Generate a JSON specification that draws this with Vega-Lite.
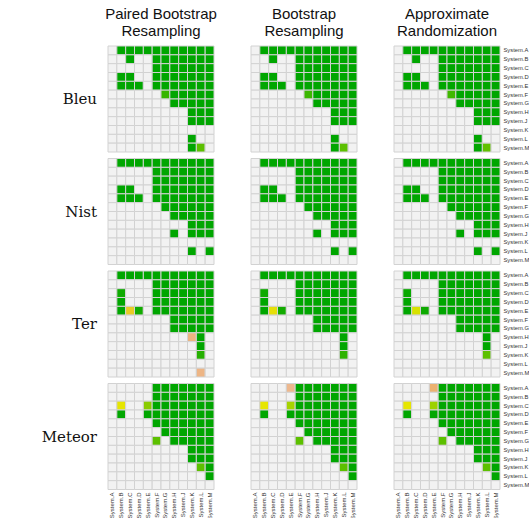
{
  "$schema": "https://vega.github.io/schema/vega-lite/v6.json",
  "padding": {"left": 41, "top": 7, "right": 0, "bottom": 0},
  "background": "white",
  "data": {"values": [
    {"m":"Bleu","t":"Paired Bootstrap Resampling","r":"A","A":1,"B":0,"C":0,"D":0,"E":0,"F":0,"G":0,"H":0,"J":0,"K":0,"L":0,"M":0},
    {"m":"Bleu","t":"Paired Bootstrap Resampling","r":"B","A":1,"B":1,"C":0,"D":1,"E":1,"F":0,"G":0,"H":0,"J":0,"K":0,"L":0,"M":0},
    {"m":"Bleu","t":"Paired Bootstrap Resampling","r":"C","A":1,"B":1,"C":1,"D":1,"E":1,"F":0,"G":0,"H":0,"J":0,"K":0,"L":0,"M":0},
    {"m":"Bleu","t":"Paired Bootstrap Resampling","r":"D","A":1,"B":0,"C":0,"D":1,"E":1,"F":0,"G":0,"H":0,"J":0,"K":0,"L":0,"M":0},
    {"m":"Bleu","t":"Paired Bootstrap Resampling","r":"E","A":1,"B":0,"C":0,"D":0,"E":1,"F":0,"G":0,"H":0,"J":0,"K":0,"L":0,"M":0},
    {"m":"Bleu","t":"Paired Bootstrap Resampling","r":"F","A":1,"B":1,"C":1,"D":1,"E":1,"F":1,"G":0.12,"H":0,"J":0,"K":0,"L":0,"M":0},
    {"m":"Bleu","t":"Paired Bootstrap Resampling","r":"G","A":1,"B":1,"C":1,"D":1,"E":1,"F":1,"G":1,"H":0,"J":0,"K":0,"L":0,"M":0},
    {"m":"Bleu","t":"Paired Bootstrap Resampling","r":"H","A":1,"B":1,"C":1,"D":1,"E":1,"F":1,"G":1,"H":1,"J":1,"K":0,"L":0,"M":0},
    {"m":"Bleu","t":"Paired Bootstrap Resampling","r":"J","A":1,"B":1,"C":1,"D":1,"E":1,"F":1,"G":1,"H":1,"J":1,"K":0,"L":0,"M":0},
    {"m":"Bleu","t":"Paired Bootstrap Resampling","r":"K","A":1,"B":1,"C":1,"D":1,"E":1,"F":1,"G":1,"H":1,"J":1,"K":1,"L":1,"M":1},
    {"m":"Bleu","t":"Paired Bootstrap Resampling","r":"L","A":1,"B":1,"C":1,"D":1,"E":1,"F":1,"G":1,"H":1,"J":1,"K":0,"L":1,"M":1},
    {"m":"Bleu","t":"Paired Bootstrap Resampling","r":"M","A":1,"B":1,"C":1,"D":1,"E":1,"F":1,"G":1,"H":1,"J":1,"K":0,"L":0.2,"M":1},

    {"m":"Bleu","t":"Bootstrap Resampling","r":"A","A":1,"B":0,"C":0,"D":0,"E":0,"F":0,"G":0,"H":0,"J":0,"K":0,"L":0,"M":0},
    {"m":"Bleu","t":"Bootstrap Resampling","r":"B","A":1,"B":1,"C":0,"D":1,"E":1,"F":0,"G":0,"H":0,"J":0,"K":0,"L":0,"M":0},
    {"m":"Bleu","t":"Bootstrap Resampling","r":"C","A":1,"B":1,"C":1,"D":1,"E":1,"F":0,"G":0,"H":0,"J":0,"K":0,"L":0,"M":0},
    {"m":"Bleu","t":"Bootstrap Resampling","r":"D","A":1,"B":0,"C":0,"D":1,"E":1,"F":0,"G":0,"H":0,"J":0,"K":0,"L":0,"M":0},
    {"m":"Bleu","t":"Bootstrap Resampling","r":"E","A":1,"B":0,"C":0,"D":0,"E":1,"F":0,"G":0,"H":0,"J":0,"K":0,"L":0,"M":0},
    {"m":"Bleu","t":"Bootstrap Resampling","r":"F","A":1,"B":1,"C":1,"D":1,"E":1,"F":1,"G":0.13,"H":0,"J":0,"K":0,"L":0,"M":0},
    {"m":"Bleu","t":"Bootstrap Resampling","r":"G","A":1,"B":1,"C":1,"D":1,"E":1,"F":1,"G":1,"H":0,"J":0,"K":0,"L":0,"M":0},
    {"m":"Bleu","t":"Bootstrap Resampling","r":"H","A":1,"B":1,"C":1,"D":1,"E":1,"F":1,"G":1,"H":1,"J":1,"K":0,"L":0,"M":0},
    {"m":"Bleu","t":"Bootstrap Resampling","r":"J","A":1,"B":1,"C":1,"D":1,"E":1,"F":1,"G":1,"H":1,"J":1,"K":0,"L":0,"M":0},
    {"m":"Bleu","t":"Bootstrap Resampling","r":"K","A":1,"B":1,"C":1,"D":1,"E":1,"F":1,"G":1,"H":1,"J":1,"K":1,"L":1,"M":1},
    {"m":"Bleu","t":"Bootstrap Resampling","r":"L","A":1,"B":1,"C":1,"D":1,"E":1,"F":1,"G":1,"H":1,"J":1,"K":0,"L":1,"M":1},
    {"m":"Bleu","t":"Bootstrap Resampling","r":"M","A":1,"B":1,"C":1,"D":1,"E":1,"F":1,"G":1,"H":1,"J":1,"K":0,"L":0.2,"M":1},

    {"m":"Bleu","t":"Approximate Randomization","r":"A","A":1,"B":0,"C":0,"D":0,"E":0,"F":0,"G":0,"H":0,"J":0,"K":0,"L":0,"M":0},
    {"m":"Bleu","t":"Approximate Randomization","r":"B","A":1,"B":1,"C":0,"D":1,"E":1,"F":0,"G":0,"H":0,"J":0,"K":0,"L":0,"M":0},
    {"m":"Bleu","t":"Approximate Randomization","r":"C","A":1,"B":1,"C":1,"D":1,"E":1,"F":0,"G":0,"H":0,"J":0,"K":0,"L":0,"M":0},
    {"m":"Bleu","t":"Approximate Randomization","r":"D","A":1,"B":0,"C":0,"D":1,"E":1,"F":0,"G":0,"H":0,"J":0,"K":0,"L":0,"M":0},
    {"m":"Bleu","t":"Approximate Randomization","r":"E","A":1,"B":0,"C":0,"D":0,"E":1,"F":0,"G":0,"H":0,"J":0,"K":0,"L":0,"M":0},
    {"m":"Bleu","t":"Approximate Randomization","r":"F","A":1,"B":1,"C":1,"D":1,"E":1,"F":1,"G":0.14,"H":0,"J":0,"K":0,"L":0,"M":0},
    {"m":"Bleu","t":"Approximate Randomization","r":"G","A":1,"B":1,"C":1,"D":1,"E":1,"F":1,"G":1,"H":0,"J":0,"K":0,"L":0,"M":0},
    {"m":"Bleu","t":"Approximate Randomization","r":"H","A":1,"B":1,"C":1,"D":1,"E":1,"F":1,"G":1,"H":1,"J":1,"K":0,"L":0,"M":0},
    {"m":"Bleu","t":"Approximate Randomization","r":"J","A":1,"B":1,"C":1,"D":1,"E":1,"F":1,"G":1,"H":1,"J":1,"K":0,"L":0,"M":0},
    {"m":"Bleu","t":"Approximate Randomization","r":"K","A":1,"B":1,"C":1,"D":1,"E":1,"F":1,"G":1,"H":1,"J":1,"K":1,"L":1,"M":1},
    {"m":"Bleu","t":"Approximate Randomization","r":"L","A":1,"B":1,"C":1,"D":1,"E":1,"F":1,"G":1,"H":1,"J":1,"K":0,"L":1,"M":1},
    {"m":"Bleu","t":"Approximate Randomization","r":"M","A":1,"B":1,"C":1,"D":1,"E":1,"F":1,"G":1,"H":1,"J":1,"K":0,"L":0.21,"M":1},

    {"m":"Nist","t":"Paired Bootstrap Resampling","r":"A","A":1,"B":0,"C":0,"D":0,"E":0,"F":0,"G":0,"H":0,"J":0,"K":0,"L":0,"M":0},
    {"m":"Nist","t":"Paired Bootstrap Resampling","r":"B","A":1,"B":1,"C":1,"D":1,"E":1,"F":0,"G":0,"H":0,"J":0,"K":0,"L":0,"M":0},
    {"m":"Nist","t":"Paired Bootstrap Resampling","r":"C","A":1,"B":1,"C":1,"D":1,"E":1,"F":0,"G":0,"H":0,"J":0,"K":0,"L":0,"M":0},
    {"m":"Nist","t":"Paired Bootstrap Resampling","r":"D","A":1,"B":0,"C":0,"D":1,"E":1,"F":0,"G":0,"H":0,"J":0,"K":0,"L":0,"M":0},
    {"m":"Nist","t":"Paired Bootstrap Resampling","r":"E","A":1,"B":0,"C":0,"D":0,"E":1,"F":0,"G":0,"H":0,"J":0,"K":0,"L":0,"M":0},
    {"m":"Nist","t":"Paired Bootstrap Resampling","r":"F","A":1,"B":1,"C":1,"D":1,"E":1,"F":1,"G":0,"H":0,"J":0,"K":0,"L":0,"M":0},
    {"m":"Nist","t":"Paired Bootstrap Resampling","r":"G","A":1,"B":1,"C":1,"D":1,"E":1,"F":1,"G":1,"H":0,"J":0,"K":0,"L":0,"M":0},
    {"m":"Nist","t":"Paired Bootstrap Resampling","r":"H","A":1,"B":1,"C":1,"D":1,"E":1,"F":1,"G":1,"H":1,"J":1,"K":0,"L":0,"M":0},
    {"m":"Nist","t":"Paired Bootstrap Resampling","r":"J","A":1,"B":1,"C":1,"D":1,"E":1,"F":1,"G":1,"H":0,"J":1,"K":0,"L":0,"M":0},
    {"m":"Nist","t":"Paired Bootstrap Resampling","r":"K","A":1,"B":1,"C":1,"D":1,"E":1,"F":1,"G":1,"H":1,"J":1,"K":1,"L":1,"M":1},
    {"m":"Nist","t":"Paired Bootstrap Resampling","r":"L","A":1,"B":1,"C":1,"D":1,"E":1,"F":1,"G":1,"H":1,"J":1,"K":0,"L":1,"M":0},
    {"m":"Nist","t":"Paired Bootstrap Resampling","r":"M","A":1,"B":1,"C":1,"D":1,"E":1,"F":1,"G":1,"H":1,"J":1,"K":1,"L":1,"M":1},

    {"m":"Nist","t":"Bootstrap Resampling","r":"A","A":1,"B":0,"C":0,"D":0,"E":0,"F":0,"G":0,"H":0,"J":0,"K":0,"L":0,"M":0},
    {"m":"Nist","t":"Bootstrap Resampling","r":"B","A":1,"B":1,"C":1,"D":1,"E":1,"F":0,"G":0,"H":0,"J":0,"K":0,"L":0,"M":0},
    {"m":"Nist","t":"Bootstrap Resampling","r":"C","A":1,"B":1,"C":1,"D":1,"E":1,"F":0,"G":0,"H":0,"J":0,"K":0,"L":0,"M":0},
    {"m":"Nist","t":"Bootstrap Resampling","r":"D","A":1,"B":0,"C":0,"D":1,"E":1,"F":0,"G":0,"H":0,"J":0,"K":0,"L":0,"M":0},
    {"m":"Nist","t":"Bootstrap Resampling","r":"E","A":1,"B":0,"C":0,"D":0,"E":1,"F":0,"G":0,"H":0,"J":0,"K":0,"L":0,"M":0},
    {"m":"Nist","t":"Bootstrap Resampling","r":"F","A":1,"B":1,"C":1,"D":1,"E":1,"F":1,"G":0,"H":0,"J":0,"K":0,"L":0,"M":0},
    {"m":"Nist","t":"Bootstrap Resampling","r":"G","A":1,"B":1,"C":1,"D":1,"E":1,"F":1,"G":1,"H":0,"J":0,"K":0,"L":0,"M":0},
    {"m":"Nist","t":"Bootstrap Resampling","r":"H","A":1,"B":1,"C":1,"D":1,"E":1,"F":1,"G":1,"H":1,"J":1,"K":0,"L":0,"M":0},
    {"m":"Nist","t":"Bootstrap Resampling","r":"J","A":1,"B":1,"C":1,"D":1,"E":1,"F":1,"G":1,"H":0,"J":1,"K":0,"L":0,"M":0},
    {"m":"Nist","t":"Bootstrap Resampling","r":"K","A":1,"B":1,"C":1,"D":1,"E":1,"F":1,"G":1,"H":1,"J":1,"K":1,"L":1,"M":1},
    {"m":"Nist","t":"Bootstrap Resampling","r":"L","A":1,"B":1,"C":1,"D":1,"E":1,"F":1,"G":1,"H":1,"J":1,"K":0,"L":1,"M":0},
    {"m":"Nist","t":"Bootstrap Resampling","r":"M","A":1,"B":1,"C":1,"D":1,"E":1,"F":1,"G":1,"H":1,"J":1,"K":1,"L":1,"M":1},

    {"m":"Nist","t":"Approximate Randomization","r":"A","A":1,"B":0,"C":0,"D":0,"E":0,"F":0,"G":0,"H":0,"J":0,"K":0,"L":0,"M":0},
    {"m":"Nist","t":"Approximate Randomization","r":"B","A":1,"B":1,"C":1,"D":1,"E":1,"F":0,"G":0,"H":0,"J":0,"K":0,"L":0,"M":0},
    {"m":"Nist","t":"Approximate Randomization","r":"C","A":1,"B":1,"C":1,"D":1,"E":1,"F":0,"G":0,"H":0,"J":0,"K":0,"L":0,"M":0},
    {"m":"Nist","t":"Approximate Randomization","r":"D","A":1,"B":0,"C":0,"D":1,"E":1,"F":0,"G":0,"H":0,"J":0,"K":0,"L":0,"M":0},
    {"m":"Nist","t":"Approximate Randomization","r":"E","A":1,"B":0,"C":0,"D":0,"E":1,"F":0,"G":0,"H":0,"J":0,"K":0,"L":0,"M":0},
    {"m":"Nist","t":"Approximate Randomization","r":"F","A":1,"B":1,"C":1,"D":1,"E":1,"F":1,"G":0,"H":0,"J":0,"K":0,"L":0,"M":0},
    {"m":"Nist","t":"Approximate Randomization","r":"G","A":1,"B":1,"C":1,"D":1,"E":1,"F":1,"G":1,"H":0,"J":0,"K":0,"L":0,"M":0},
    {"m":"Nist","t":"Approximate Randomization","r":"H","A":1,"B":1,"C":1,"D":1,"E":1,"F":1,"G":1,"H":1,"J":1,"K":0,"L":0,"M":0},
    {"m":"Nist","t":"Approximate Randomization","r":"J","A":1,"B":1,"C":1,"D":1,"E":1,"F":1,"G":1,"H":0,"J":1,"K":0,"L":0,"M":0},
    {"m":"Nist","t":"Approximate Randomization","r":"K","A":1,"B":1,"C":1,"D":1,"E":1,"F":1,"G":1,"H":1,"J":1,"K":1,"L":1,"M":1},
    {"m":"Nist","t":"Approximate Randomization","r":"L","A":1,"B":1,"C":1,"D":1,"E":1,"F":1,"G":1,"H":1,"J":1,"K":0,"L":1,"M":0},
    {"m":"Nist","t":"Approximate Randomization","r":"M","A":1,"B":1,"C":1,"D":1,"E":1,"F":1,"G":1,"H":1,"J":1,"K":1,"L":1,"M":1},

    {"m":"Ter","t":"Paired Bootstrap Resampling","r":"A","A":1,"B":0,"C":0,"D":0,"E":0,"F":0,"G":0,"H":0,"J":0,"K":0,"L":0,"M":0},
    {"m":"Ter","t":"Paired Bootstrap Resampling","r":"B","A":1,"B":1,"C":1,"D":1,"E":1,"F":0,"G":0,"H":0,"J":0,"K":0,"L":0,"M":0},
    {"m":"Ter","t":"Paired Bootstrap Resampling","r":"C","A":1,"B":0.03,"C":1,"D":1,"E":1,"F":0,"G":0,"H":0,"J":0,"K":0,"L":0,"M":0},
    {"m":"Ter","t":"Paired Bootstrap Resampling","r":"D","A":1,"B":0,"C":1,"D":1,"E":1,"F":0,"G":0,"H":0,"J":0,"K":0,"L":0,"M":0},
    {"m":"Ter","t":"Paired Bootstrap Resampling","r":"E","A":1,"B":0,"C":0.58,"D":0.04,"E":1,"F":0,"G":0,"H":0,"J":0,"K":0,"L":0,"M":0},
    {"m":"Ter","t":"Paired Bootstrap Resampling","r":"F","A":1,"B":1,"C":1,"D":1,"E":1,"F":1,"G":1,"H":0,"J":0,"K":0,"L":0,"M":0},
    {"m":"Ter","t":"Paired Bootstrap Resampling","r":"G","A":1,"B":1,"C":1,"D":1,"E":1,"F":1,"G":1,"H":0,"J":0,"K":0,"L":0,"M":0},
    {"m":"Ter","t":"Paired Bootstrap Resampling","r":"H","A":1,"B":1,"C":1,"D":1,"E":1,"F":1,"G":1,"H":1,"J":1,"K":0.77,"L":0,"M":1},
    {"m":"Ter","t":"Paired Bootstrap Resampling","r":"J","A":1,"B":1,"C":1,"D":1,"E":1,"F":1,"G":1,"H":1,"J":1,"K":1,"L":0,"M":1},
    {"m":"Ter","t":"Paired Bootstrap Resampling","r":"K","A":1,"B":1,"C":1,"D":1,"E":1,"F":1,"G":1,"H":1,"J":1,"K":1,"L":0.08,"M":1},
    {"m":"Ter","t":"Paired Bootstrap Resampling","r":"L","A":1,"B":1,"C":1,"D":1,"E":1,"F":1,"G":1,"H":1,"J":1,"K":1,"L":1,"M":1},
    {"m":"Ter","t":"Paired Bootstrap Resampling","r":"M","A":1,"B":1,"C":1,"D":1,"E":1,"F":1,"G":1,"H":1,"J":1,"K":1,"L":0.78,"M":1},

    {"m":"Ter","t":"Bootstrap Resampling","r":"A","A":1,"B":0,"C":0,"D":0,"E":0,"F":0,"G":0,"H":0,"J":0,"K":0,"L":0,"M":0},
    {"m":"Ter","t":"Bootstrap Resampling","r":"B","A":1,"B":1,"C":1,"D":1,"E":1,"F":0,"G":0,"H":0,"J":0,"K":0,"L":0,"M":0},
    {"m":"Ter","t":"Bootstrap Resampling","r":"C","A":1,"B":0.03,"C":1,"D":1,"E":1,"F":0,"G":0,"H":0,"J":0,"K":0,"L":0,"M":0},
    {"m":"Ter","t":"Bootstrap Resampling","r":"D","A":1,"B":0,"C":1,"D":1,"E":1,"F":0,"G":0,"H":0,"J":0,"K":0,"L":0,"M":0},
    {"m":"Ter","t":"Bootstrap Resampling","r":"E","A":1,"B":0,"C":0.52,"D":0.04,"E":1,"F":0,"G":0,"H":0,"J":0,"K":0,"L":0,"M":0},
    {"m":"Ter","t":"Bootstrap Resampling","r":"F","A":1,"B":1,"C":1,"D":1,"E":1,"F":1,"G":1,"H":0,"J":0,"K":0,"L":0,"M":0},
    {"m":"Ter","t":"Bootstrap Resampling","r":"G","A":1,"B":1,"C":1,"D":1,"E":1,"F":1,"G":1,"H":0,"J":0,"K":0,"L":0,"M":0},
    {"m":"Ter","t":"Bootstrap Resampling","r":"H","A":1,"B":1,"C":1,"D":1,"E":1,"F":1,"G":1,"H":1,"J":1,"K":1,"L":0,"M":1},
    {"m":"Ter","t":"Bootstrap Resampling","r":"J","A":1,"B":1,"C":1,"D":1,"E":1,"F":1,"G":1,"H":1,"J":1,"K":1,"L":0,"M":1},
    {"m":"Ter","t":"Bootstrap Resampling","r":"K","A":1,"B":1,"C":1,"D":1,"E":1,"F":1,"G":1,"H":1,"J":1,"K":1,"L":0.1,"M":1},
    {"m":"Ter","t":"Bootstrap Resampling","r":"L","A":1,"B":1,"C":1,"D":1,"E":1,"F":1,"G":1,"H":1,"J":1,"K":1,"L":1,"M":1},
    {"m":"Ter","t":"Bootstrap Resampling","r":"M","A":1,"B":1,"C":1,"D":1,"E":1,"F":1,"G":1,"H":1,"J":1,"K":1,"L":1,"M":1},

    {"m":"Ter","t":"Approximate Randomization","r":"A","A":1,"B":0,"C":0,"D":0,"E":0,"F":0,"G":0,"H":0,"J":0,"K":0,"L":0,"M":0},
    {"m":"Ter","t":"Approximate Randomization","r":"B","A":1,"B":1,"C":1,"D":1,"E":1,"F":0,"G":0,"H":0,"J":0,"K":0,"L":0,"M":0},
    {"m":"Ter","t":"Approximate Randomization","r":"C","A":1,"B":0.02,"C":1,"D":1,"E":1,"F":0,"G":0,"H":0,"J":0,"K":0,"L":0,"M":0},
    {"m":"Ter","t":"Approximate Randomization","r":"D","A":1,"B":0,"C":1,"D":1,"E":1,"F":0,"G":0,"H":0,"J":0,"K":0,"L":0,"M":0},
    {"m":"Ter","t":"Approximate Randomization","r":"E","A":1,"B":0,"C":0.47,"D":0.03,"E":1,"F":0,"G":0,"H":0,"J":0,"K":0,"L":0,"M":0},
    {"m":"Ter","t":"Approximate Randomization","r":"F","A":1,"B":1,"C":1,"D":1,"E":1,"F":1,"G":1,"H":0,"J":0,"K":0,"L":0,"M":0},
    {"m":"Ter","t":"Approximate Randomization","r":"G","A":1,"B":1,"C":1,"D":1,"E":1,"F":1,"G":1,"H":0,"J":0,"K":0,"L":0,"M":0},
    {"m":"Ter","t":"Approximate Randomization","r":"H","A":1,"B":1,"C":1,"D":1,"E":1,"F":1,"G":1,"H":1,"J":1,"K":1,"L":0,"M":1},
    {"m":"Ter","t":"Approximate Randomization","r":"J","A":1,"B":1,"C":1,"D":1,"E":1,"F":1,"G":1,"H":1,"J":1,"K":1,"L":0,"M":1},
    {"m":"Ter","t":"Approximate Randomization","r":"K","A":1,"B":1,"C":1,"D":1,"E":1,"F":1,"G":1,"H":1,"J":1,"K":1,"L":0.2,"M":1},
    {"m":"Ter","t":"Approximate Randomization","r":"L","A":1,"B":1,"C":1,"D":1,"E":1,"F":1,"G":1,"H":1,"J":1,"K":1,"L":1,"M":1},
    {"m":"Ter","t":"Approximate Randomization","r":"M","A":1,"B":1,"C":1,"D":1,"E":1,"F":1,"G":1,"H":1,"J":1,"K":1,"L":1,"M":1},

    {"m":"Meteor","t":"Paired Bootstrap Resampling","r":"A","A":1,"B":1,"C":1,"D":1,"E":1,"F":0,"G":0,"H":0,"J":0,"K":0,"L":0,"M":0},
    {"m":"Meteor","t":"Paired Bootstrap Resampling","r":"B","A":1,"B":1,"C":1,"D":1,"E":1,"F":0,"G":0,"H":0,"J":0,"K":0,"L":0,"M":0},
    {"m":"Meteor","t":"Paired Bootstrap Resampling","r":"C","A":1,"B":0.5,"C":1,"D":1,"E":0.3,"F":0,"G":0,"H":0,"J":0,"K":0,"L":0,"M":0},
    {"m":"Meteor","t":"Paired Bootstrap Resampling","r":"D","A":1,"B":0,"C":1,"D":1,"E":0,"F":0,"G":0,"H":0,"J":0,"K":0,"L":0,"M":0},
    {"m":"Meteor","t":"Paired Bootstrap Resampling","r":"E","A":1,"B":1,"C":1,"D":1,"E":1,"F":0,"G":0,"H":0,"J":0,"K":0,"L":0,"M":0},
    {"m":"Meteor","t":"Paired Bootstrap Resampling","r":"F","A":1,"B":1,"C":1,"D":1,"E":1,"F":1,"G":0,"H":0,"J":0,"K":0,"L":0,"M":0},
    {"m":"Meteor","t":"Paired Bootstrap Resampling","r":"G","A":1,"B":1,"C":1,"D":1,"E":1,"F":0.2,"G":1,"H":0,"J":0,"K":0,"L":0,"M":0},
    {"m":"Meteor","t":"Paired Bootstrap Resampling","r":"H","A":1,"B":1,"C":1,"D":1,"E":1,"F":1,"G":1,"H":1,"J":1,"K":0,"L":0,"M":0},
    {"m":"Meteor","t":"Paired Bootstrap Resampling","r":"J","A":1,"B":1,"C":1,"D":1,"E":1,"F":1,"G":1,"H":1,"J":1,"K":0,"L":0,"M":0},
    {"m":"Meteor","t":"Paired Bootstrap Resampling","r":"K","A":1,"B":1,"C":1,"D":1,"E":1,"F":1,"G":1,"H":1,"J":1,"K":1,"L":0.2,"M":0},
    {"m":"Meteor","t":"Paired Bootstrap Resampling","r":"L","A":1,"B":1,"C":1,"D":1,"E":1,"F":1,"G":1,"H":1,"J":1,"K":1,"L":1,"M":0},
    {"m":"Meteor","t":"Paired Bootstrap Resampling","r":"M","A":1,"B":1,"C":1,"D":1,"E":1,"F":1,"G":1,"H":1,"J":1,"K":1,"L":1,"M":1},

    {"m":"Meteor","t":"Bootstrap Resampling","r":"A","A":1,"B":1,"C":1,"D":1,"E":0.8,"F":0,"G":0,"H":0,"J":0,"K":0,"L":0,"M":0},
    {"m":"Meteor","t":"Bootstrap Resampling","r":"B","A":1,"B":1,"C":1,"D":1,"E":1,"F":0,"G":0,"H":0,"J":0,"K":0,"L":0,"M":0},
    {"m":"Meteor","t":"Bootstrap Resampling","r":"C","A":1,"B":0.5,"C":1,"D":1,"E":0.36,"F":0,"G":0,"H":0,"J":0,"K":0,"L":0,"M":0},
    {"m":"Meteor","t":"Bootstrap Resampling","r":"D","A":1,"B":0,"C":1,"D":1,"E":0,"F":0,"G":0,"H":0,"J":0,"K":0,"L":0,"M":0},
    {"m":"Meteor","t":"Bootstrap Resampling","r":"E","A":1,"B":1,"C":1,"D":1,"E":1,"F":0,"G":0,"H":0,"J":0,"K":0,"L":0,"M":0},
    {"m":"Meteor","t":"Bootstrap Resampling","r":"F","A":1,"B":1,"C":1,"D":1,"E":1,"F":1,"G":0,"H":0,"J":0,"K":0,"L":0,"M":0},
    {"m":"Meteor","t":"Bootstrap Resampling","r":"G","A":1,"B":1,"C":1,"D":1,"E":1,"F":0.2,"G":1,"H":0,"J":0,"K":0,"L":0,"M":0},
    {"m":"Meteor","t":"Bootstrap Resampling","r":"H","A":1,"B":1,"C":1,"D":1,"E":1,"F":1,"G":1,"H":1,"J":1,"K":0,"L":0,"M":0},
    {"m":"Meteor","t":"Bootstrap Resampling","r":"J","A":1,"B":1,"C":1,"D":1,"E":1,"F":1,"G":1,"H":1,"J":1,"K":0,"L":0,"M":0},
    {"m":"Meteor","t":"Bootstrap Resampling","r":"K","A":1,"B":1,"C":1,"D":1,"E":1,"F":1,"G":1,"H":1,"J":1,"K":1,"L":0.2,"M":0},
    {"m":"Meteor","t":"Bootstrap Resampling","r":"L","A":1,"B":1,"C":1,"D":1,"E":1,"F":1,"G":1,"H":1,"J":1,"K":1,"L":1,"M":0},
    {"m":"Meteor","t":"Bootstrap Resampling","r":"M","A":1,"B":1,"C":1,"D":1,"E":1,"F":1,"G":1,"H":1,"J":1,"K":1,"L":1,"M":1},

    {"m":"Meteor","t":"Approximate Randomization","r":"A","A":1,"B":1,"C":1,"D":1,"E":0.74,"F":0,"G":0,"H":0,"J":0,"K":0,"L":0,"M":0},
    {"m":"Meteor","t":"Approximate Randomization","r":"B","A":1,"B":1,"C":1,"D":1,"E":1,"F":0,"G":0,"H":0,"J":0,"K":0,"L":0,"M":0},
    {"m":"Meteor","t":"Approximate Randomization","r":"C","A":1,"B":0.5,"C":1,"D":1,"E":0.34,"F":0,"G":0,"H":0,"J":0,"K":0,"L":0,"M":0},
    {"m":"Meteor","t":"Approximate Randomization","r":"D","A":1,"B":0,"C":1,"D":1,"E":0,"F":0,"G":0,"H":0,"J":0,"K":0,"L":0,"M":0},
    {"m":"Meteor","t":"Approximate Randomization","r":"E","A":1,"B":1,"C":1,"D":1,"E":1,"F":0,"G":0,"H":0,"J":0,"K":0,"L":0,"M":0},
    {"m":"Meteor","t":"Approximate Randomization","r":"F","A":1,"B":1,"C":1,"D":1,"E":1,"F":1,"G":0,"H":0,"J":0,"K":0,"L":0,"M":0},
    {"m":"Meteor","t":"Approximate Randomization","r":"G","A":1,"B":1,"C":1,"D":1,"E":1,"F":0.2,"G":1,"H":0,"J":0,"K":0,"L":0,"M":0},
    {"m":"Meteor","t":"Approximate Randomization","r":"H","A":1,"B":1,"C":1,"D":1,"E":1,"F":1,"G":1,"H":1,"J":1,"K":0,"L":0,"M":0},
    {"m":"Meteor","t":"Approximate Randomization","r":"J","A":1,"B":1,"C":1,"D":1,"E":1,"F":1,"G":1,"H":1,"J":1,"K":0,"L":0,"M":0},
    {"m":"Meteor","t":"Approximate Randomization","r":"K","A":1,"B":1,"C":1,"D":1,"E":1,"F":1,"G":1,"H":1,"J":1,"K":1,"L":0.2,"M":0},
    {"m":"Meteor","t":"Approximate Randomization","r":"L","A":1,"B":1,"C":1,"D":1,"E":1,"F":1,"G":1,"H":1,"J":1,"K":1,"L":1,"M":0},
    {"m":"Meteor","t":"Approximate Randomization","r":"M","A":1,"B":1,"C":1,"D":1,"E":1,"F":1,"G":1,"H":1,"J":1,"K":1,"L":1,"M":1}
  ]},
  "transform": [
    {"fold": ["A","B","C","D","E","F","G","H","J","K","L","M"], "as": ["c","p"]}
  ],
  "facet": {
    "row": {"field": "m", "type": "nominal", "sort": ["Bleu","Nist","Ter","Meteor"],
      "header": {"title": null, "labelOrient": "left", "labelAngle": 0, "labelAlign": "left",
        "labelFont": "DejaVu Serif", "labelFontSize": 15, "labelColor": "#111", "labelPadding": 10}},
    "column": {"field": "t", "type": "nominal", "sort": ["Paired Bootstrap Resampling","Bootstrap Resampling","Approximate Randomization"],
      "header": {"title": null, "labelOrient": "top",
        "labelExpr": "datum.value == 'Paired Bootstrap Resampling' ? ['Paired Bootstrap','Resampling'] : datum.value == 'Bootstrap Resampling' ? ['Bootstrap','Resampling'] : ['Approximate','Randomization']",
        "labelFont": "Liberation Sans", "labelFontSize": 15, "labelColor": "#111", "labelLineHeight": 17, "labelPadding": 6}}
  },
  "spacing": {"row": 4.5, "column": 35},
  "spec": {
    "width": 106,
    "height": 106,
    "mark": {"type": "rect", "stroke": "#d2d2d2", "strokeWidth": 1},
    "encoding": {
      "x": {"field": "c", "type": "ordinal", "sort": ["A","B","C","D","E","F","G","H","J","K","L","M"],
        "axis": {"title": null, "orient": "bottom", "labelAngle": -90, "labelAlign": "right", "labelBaseline": "middle",
          "labelExpr": "'System.' + datum.value", "labelFont": "Liberation Sans", "labelFontSize": 6, "labelColor": "#333",
          "ticks": false, "domain": false, "labelPadding": 2}},
      "y": {"field": "r", "type": "ordinal", "sort": ["A","B","C","D","E","F","G","H","J","K","L","M"],
        "axis": {"title": null, "orient": "right", "labelExpr": "'System.' + datum.value", "labelFont": "Liberation Sans",
          "labelFontSize": 5.8, "labelColor": "#333", "ticks": false, "domain": false, "labelPadding": 2}},
      "color": {"field": "p", "type": "quantitative", "legend": null,
        "scale": {"domain": [0, 0.5, 0.625, 0.75, 0.875, 1], "range": ["#00A600", "#E6E600", "#E9BD3A", "#ECB176", "#EFC2B3", "#F2F2F2"], "interpolate": "rgb"}}
    }
  },
  "config": {"view": {"stroke": null}}
}
